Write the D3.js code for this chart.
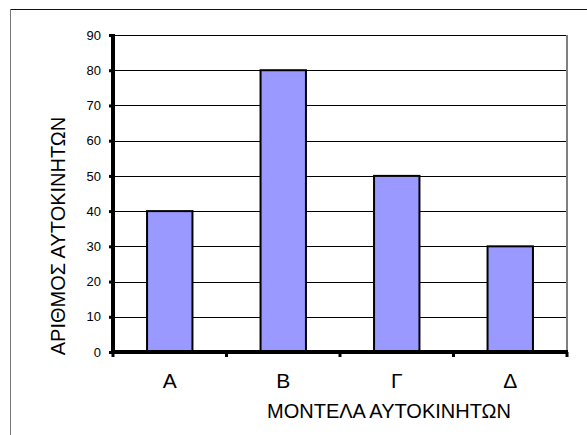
<!DOCTYPE html>
<html><head><meta charset="utf-8">
<script src="https://cdn.jsdelivr.net/npm/d3@7"></script>
<style>html,body{margin:0;padding:0;background:#fff;}svg{display:block;}</style>
</head><body>
<script>
const categories = ["Α", "Β", "Γ", "Δ"];
const values = [40, 80, 50, 30];
const yTicks = [0, 10, 20, 30, 40, 50, 60, 70, 80, 90];
const yTitle = "ΑΡΙΘΜΟΣ ΑΥΤΟΚΙΝΗΤΩΝ";
const xTitle = "ΜΟΝΤΕΛΑ ΑΥΤΟΚΙΝΗΤΩΝ";

const W = 587, H = 435;
const L = 113, R = 567, T = 35, B = 352;
const font = "Arial, 'Liberation Sans', sans-serif";

const svg = d3.select("body").append("svg").attr("width", W).attr("height", H);
svg.append("rect").attr("width", W).attr("height", H).attr("fill", "#fff");

// outer border
svg.append("line").attr("x1", 10).attr("x2", W).attr("y1", 9.5).attr("y2", 9.5).attr("stroke", "#111").attr("stroke-width", 1);
svg.append("line").attr("x1", 10.5).attr("x2", 10.5).attr("y1", 9).attr("y2", H).attr("stroke", "#777").attr("stroke-width", 1);

const x = d3.scaleBand().domain(categories).range([L, R]).padding(0);
const y = d3.scaleLinear().domain([0, 90]).range([B, T]);

// gridlines
svg.append("g").selectAll("line").data(yTicks.filter(d => d > 0)).join("line")
  .attr("x1", L).attr("x2", R)
  .attr("y1", d => Math.round(y(d)) + 0.5).attr("y2", d => Math.round(y(d)) + 0.5)
  .attr("stroke", "#000").attr("stroke-width", 1);

// plot right border
svg.append("line").attr("x1", R).attr("x2", R).attr("y1", T).attr("y2", B)
  .attr("stroke", "#808080").attr("stroke-width", 2);

// bars
const bw = x.bandwidth() * 0.4;
svg.append("g").selectAll("rect").data(values).join("rect")
  .attr("x", (d, i) => x(categories[i]) + (x.bandwidth() - bw) / 2)
  .attr("width", bw)
  .attr("y", d => y(d))
  .attr("height", d => y(0) - y(d))
  .attr("fill", "#9999FF").attr("stroke", "#000").attr("stroke-width", 2);

// y axis
const yAxis = d3.axisLeft(y).tickValues(yTicks).tickSize(4).tickPadding(8);
const gy = svg.append("g").attr("transform", `translate(${L},0)`).call(yAxis);
gy.select(".domain").remove();
gy.selectAll(".tick line").attr("stroke", "#000").attr("stroke-width", 3);
gy.selectAll(".tick text").attr("font-family", font).attr("font-size", 13).attr("fill", "#000");
svg.append("line").attr("x1", L).attr("x2", L).attr("y1", T - 1).attr("y2", B + 2)
  .attr("stroke", "#000").attr("stroke-width", 4);

// x axis
svg.append("line").attr("x1", L - 2).attr("x2", R + 1).attr("y1", B).attr("y2", B)
  .attr("stroke", "#000").attr("stroke-width", 4);
const bounds = categories.map(c => x(c)).concat([R]);
svg.append("g").selectAll("line").data(bounds).join("line")
  .attr("x1", d => d).attr("x2", d => d).attr("y1", B).attr("y2", B + 5)
  .attr("stroke", "#000").attr("stroke-width", 3);

// category labels
svg.append("g").selectAll("text").data(categories).join("text")
  .attr("x", d => x(d) + x.bandwidth() / 2).attr("y", 388)
  .attr("text-anchor", "middle").attr("font-family", font).attr("font-size", 21)
  .attr("fill", "#000").text(d => d);

// titles
svg.append("text").attr("x", 389).attr("y", 418).attr("text-anchor", "middle")
  .attr("font-family", font).attr("font-size", 20).attr("fill", "#000").text(xTitle);
svg.append("text").attr("transform", "translate(65,236) rotate(-90)").attr("text-anchor", "middle")
  .attr("font-family", font).attr("font-size", 20).attr("fill", "#000").text(yTitle);
</script>
</body></html>
